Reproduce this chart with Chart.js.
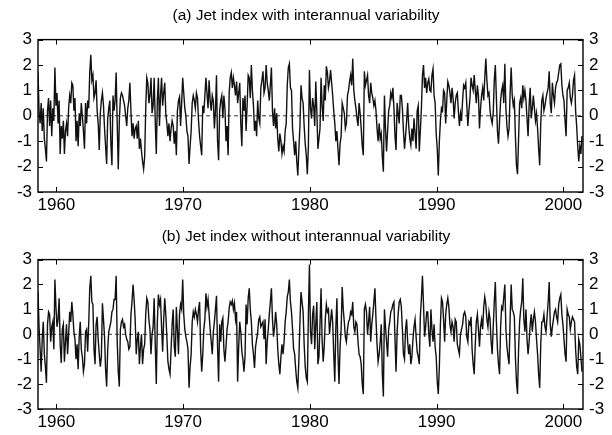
<!DOCTYPE html>
<html>
<head>
<meta charset="utf-8">
<script src="https://cdn.jsdelivr.net/npm/chart.js@4.4.0/dist/chart.umd.min.js"></script>
<style>
  body { margin: 0; background: #fff; }
  .panel { position: absolute; left: 0; width: 612px; }
  #boxA { top: 0; height: 218px; }
  #boxB { top: 218px; height: 217px; }
</style>
</head>
<body>
<div class="panel" id="boxA"><canvas id="chartA"></canvas></div>
<div class="panel" id="boxB"><canvas id="chartB"></canvas></div>
<script>
// monthly series, first month at startYear, one value per month
const startYear = 1958.55;
const endYear = 2001.55;
const yearTicks = [1960, 1970, 1980, 1990, 2000];
const indexTicks = [-3, -2, -1, 0, 1, 2, 3];
const titleA = '(a) Jet index with interannual variability';
const titleB = '(b) Jet index without interannual variability';

const jetWithIav = [
  1.7,0.2,-0.3,0.5,-0.6,0.3,-0.9,-1.3,-1.8,0.2, 0.7,-0.4,0.6,-0.8,0.3,-0.2,1.9,0.4,0.9,-0.3,
  0.6,-1.5,-0.4,-0.9,-0.2,-1.5,-0.6,-0.3,-0.8,0.3, 0.8,0.5,1.3,1.2,0.2,0.7,-1.0,-0.2,-1.2,0.1,
  -0.4,0.5,0.0,-0.6,-1.3,0.5,-0.3,0.6,0.3,1.7, 2.4,1.4,1.6,0.7,0.9,1.4,0.2,-0.3,-1.35,0.1,
  0.6,0.9,0.4,-0.5,-1.2,-1.9,-0.1,0.3,0.6,-1.1, -1.95,0.8,0.2,0.6,1.7,-0.3,-2.1,-0.2,0.7,0.9,
  0.8,0.6,0.4,0.0,-0.4,0.3,
  0.6,1.3,0.2,-0.8,-0.3,-0.9,-0.5,-0.4,-0.9,-0.2, -1.3,-0.9,-1.4,-1.8,-2.1,-1.6,0.3,1.5,1.3,0.5,
  0.8,1.5,0.1,0.4,1.5,-0.2,-1.5,0.6,1.5,-0.4, 0.8,1.5,0.4,0.9,1.3,0.1,-0.3,-0.8,-0.3,-1.0,
  -0.5,-0.2,-0.4,-1.1,-0.6,-1.55,0.2,0.6,0.75,-0.4, 0.5,1.5,0.9,0.3,0.0,-0.6,-0.8,-1.9,-1.2,-0.6,
  0.5,0.8,0.6,0.3,0.9,0.7,-0.2,-0.8,-1.2,-1.55, 0.4,0.1,0.8,1.5,0.9,0.3,1.4,0.6,0.2,0.8,
  0.6,-0.5,0.2,1.6,-1.0,-1.75,
  0.2,0.6,0.8,-0.1,0.8,0.3,-1.0,-0.4,-1.55,0.9, 1.5,1.7,1.1,1.5,1.2,0.8,1.35,0.5,0.9,1.3,
  -0.3,-1.2,0.7,0.2,0.8,-0.6,0.4,1.6,1.5,0.7, 2.0,1.0,0.4,-0.6,-0.2,-0.8,0.6,-0.1,-0.3,1.1,
  1.4,1.75,0.9,1.1,2.0,1.3,1.0,0.6,1.2,1.9, 0.2,-0.4,0.3,-0.5,0.1,-0.9,-1.4,-0.7,-1.0,-1.5,
  -1.2,-1.4,-0.6,-0.3,1.2,1.9,2.05,1.1,1.0,-0.5, -1.0,-1.55,-1.0,-1.8,-2.35,-1.3,-0.4,1.2,0.7,0.5,
  -0.4,-1.1,-1.55,-2.3,-1.2,1.8,
  0.3,-0.1,0.7,0.4,-0.4,1.35,0.2,-1.3,-0.9,-0.5, 1.5,0.4,-0.2,1.2,0.6,1.95,1.7,1.1,1.35,1.8,
  1.3,0.8,0.2,-0.3,-1.0,-0.6,-1.3,-1.95,-1.1,-0.8, 0.5,0.3,0.1,-0.5,-0.3,0.8,1.0,1.35,1.6,1.2,
  2.25,1.0,0.6,0.3,-0.1,-0.4,0.5,0.1,-0.5,-1.2, -1.55,1.75,1.2,1.4,1.6,0.8,0.5,1.3,0.9,0.7,
  0.4,0.6,0.2,-0.5,-1.0,-0.3,-0.9,-0.7,-1.6,-2.2, 0.8,-0.5,-1.4,-0.6,0.2,0.4,0.9,0.7,1.1,0.3,
  -0.8,-1.35,0.5,0.1,-0.3,0.8,
  0.8,0.3,-0.6,-1.3,-0.8,-0.2,0.5,-0.4,-0.9,-1.15, -0.5,-1.0,-0.1,-0.7,-1.3,0.2,0.4,-1.4,-0.6,0.3,
  1.6,2.0,1.1,1.5,0.9,1.3,1.45,1.0,0.95,1.6, 1.85,0.8,0.5,-0.7,-1.3,-2.35,-1.0,-0.2,0.3,0.2,
  1.0,0.9,-0.3,0.6,1.35,1.2,0.9,0.5,1.1,0.7, -0.1,0.5,0.8,0.9,0.2,-0.4,0.1,-0.2,0.6,1.2,
  1.1,1.3,0.4,-0.4,0.2,0.7,1.5,1.2,1.0,1.6, 1.0,0.5,1.2,0.8,-0.5,0.3,0.8,1.1,0.6,1.5,
  2.25,1.4,0.8,0.9,0.2,-0.1,
  -0.3,0.1,1.4,2.0,0.7,-0.6,-1.1,-0.2,0.6,1.0, 1.2,0.5,2.05,0.3,-0.4,-0.8,-0.5,0.9,1.9,0.8,
  0.4,0.6,-0.8,-1.95,-2.3,-0.9,0.5,0.7,0.3,1.2, 0.7,1.0,0.6,-0.1,-0.8,0.4,1.1,-0.1,0.3,0.8,
  0.3,-0.2,0.1,-0.5,-1.3,-1.95,-0.3,0.6,0.8,0.2, 0.4,0.7,0.9,1.1,1.75,0.5,0.1,1.3,0.8,0.5,
  1.1,1.3,1.4,1.7,2.0,2.05,1.2,0.8,0.6,-0.2, -0.8,1.0,1.1,1.3,0.7,0.5,0.8,1.4,1.6,0.2,
  -0.4,-1.2,-1.8,-1.2,-1.5,-0.8
];

const jetWithoutIav = [
  1.7,0.3,-0.6,-1.5,-0.2,0.5,-0.8,-1.3,-1.95,0.4, 0.9,0.8,-0.3,0.3,0.5,-0.6,2.2,1.1,0.3,0.6,
  1.45,-0.4,-1.15,0.2,0.4,-1.1,-0.3,0.4,-0.8,0.0, 0.9,0.5,1.3,0.8,0.1,-0.2,-1.0,-0.4,-1.4,-0.1,
  0.5,-0.6,-0.9,-1.5,-1.2,0.1,0.2,-0.7,0.4,1.85, 2.35,1.3,1.2,-0.6,-1.2,0.4,0.7,-0.2,-0.8,-1.3,
  -0.9,1.25,0.6,-0.1,-1.4,-2.1,-0.6,0.1,0.3,0.5, 0.9,1.0,1.4,1.4,2.35,-0.3,-1.5,-2.1,0.2,0.5,
  0.6,0.3,0.4,0.0,-0.2,-0.3,
  -0.6,-0.5,0.8,1.3,2.0,1.4,0.6,-0.8,-0.2,0.1, -1.2,-0.5,0.0,-1.2,-0.6,-0.4,0.8,1.45,1.3,0.6,
  0.2,-0.8,0.0,0.3,1.45,-0.4,-2.0,0.5,1.6,1.2, 1.4,0.3,-0.7,0.6,1.45,0.8,-0.1,-1.1,-1.4,-1.6,
  -0.6,0.4,1.0,-0.5,-0.9,1.1,0.2,-0.8,0.8,1.2, 1.0,2.2,0.8,0.2,-0.1,-0.3,-0.6,-2.15,-1.3,-0.8,
  0.5,0.9,0.7,1.0,0.8,0.5,1.0,1.3,-0.6,-1.5, -0.8,0.2,0.6,1.65,1.1,1.4,0.8,0.2,-0.3,-0.8,
  0.1,0.5,1.0,1.55,-0.5,-1.9,
  0.4,-0.3,0.5,0.65,-0.6,-1.1,-0.5,0.2,0.5,1.05, 1.3,1.2,1.35,1.0,1.25,0.6,0.9,-1.9,-0.5,0.5,
  0.1,-0.7,-1.0,-1.5,-0.9,1.2,0.4,1.45,1.85,1.0, 0.5,-0.4,-0.8,-1.35,-0.5,-0.2,0.1,0.6,0.7,0.3,
  0.4,0.5,-0.2,0.6,-1.2,-0.3,0.2,0.8,1.3,1.85, 0.6,-0.1,0.3,0.9,0.4,-0.6,-1.2,-1.6,-0.9,-0.4,
  -0.8,-0.3,0.5,0.9,1.5,1.7,2.2,1.3,0.9,0.2, -0.6,-0.8,-1.4,-1.9,-2.15,-1.0,0.5,1.7,1.3,0.9,
  -0.4,-1.3,-1.75,-1.9,0.8,2.8,
  0.1,-0.4,0.8,1.15,-0.6,0.4,1.3,-1.2,-0.9,0.4, 1.85,-0.2,-1.1,-0.5,0.6,1.2,0.9,1.0,0.0,0.5,
  1.0,0.5,-0.8,-1.9,0.3,1.45,-0.8,-2.0,-0.5,0.2, 1.9,1.0,0.5,-0.1,-0.3,0.2,0.5,0.6,0.9,0.8,
  1.3,0.3,0.1,0.5,0.4,-0.3,-0.8,-0.9,-1.2,-2.0, -2.4,1.0,1.2,0.9,0.0,0.5,1.1,-0.3,0.4,0.8,
  1.3,1.85,0.6,-0.4,-1.1,-0.8,-0.3,0.4,-1.6,-2.5, 1.0,0.3,-0.3,-0.9,0.2,0.5,0.9,1.0,1.2,1.3,
  -0.2,-1.5,0.1,0.8,1.3,1.4,
  1.1,0.2,-0.8,-1.0,0.2,0.6,-0.3,-0.8,-0.4,-1.2, -0.9,-0.2,0.3,0.6,-0.1,-0.7,-0.9,-1.2,0.7,1.45,
  2.35,1.2,-0.1,0.3,0.9,0.9,0.0,-0.5,1.0,0.2, -0.3,0.4,-0.5,-0.9,-1.9,-2.4,-1.3,0.4,1.45,1.3,
  0.6,-0.3,0.8,1.2,1.45,1.1,0.4,0.1,0.5,0.3, -0.3,0.6,0.5,-0.4,-0.6,-0.8,0.0,0.2,0.4,0.8,
  0.9,0.7,-0.1,-0.3,0.5,0.4,0.7,-0.6,-1.2,-1.6, -0.4,0.5,0.8,0.2,-0.5,0.3,0.6,0.2,1.1,1.5,
  1.2,0.6,0.3,0.9,0.6,-0.3,
  -0.8,0.3,1.3,2.1,0.5,-0.6,-1.2,-1.6,0.3,1.1, 1.0,1.5,2.0,0.2,-0.5,-0.9,-1.2,0.6,2.0,1.0,
  0.9,0.7,-0.9,-1.9,-2.4,-0.6,0.5,1.0,1.3,2.25, 0.6,0.1,1.0,-0.2,-0.8,-0.3,0.4,0.8,0.1,0.6,
  0.9,0.5,-0.2,-0.8,-1.6,-2.15,-0.4,0.5,0.5,0.8, 0.3,0.1,0.7,1.3,2.1,0.4,-0.1,0.3,0.6,0.9,
  1.0,0.7,0.5,1.2,1.45,1.6,0.8,0.4,-0.2,-0.8, -1.1,1.0,0.8,0.7,0.2,0.5,0.7,0.6,0.5,-0.6,
  -1.3,-1.6,-0.2,-0.4,-0.9,-1.5
];

const fontFamily = "'Liberation Sans', Arial, Helvetica, sans-serif";

// box round the plot plus inward ticks, matlab style
const frameTicks = {
  id: 'frameTicks',
  afterDraw(chart) {
    const ctx = chart.ctx;
    const a = chart.chartArea;
    const sx = chart.scales.x, sy = chart.scales.y;
    ctx.save();
    ctx.strokeStyle = '#000';
    ctx.lineWidth = 1.4;
    ctx.strokeRect(a.left, a.top, a.right - a.left, a.bottom - a.top);
    ctx.lineWidth = 1;
    ctx.beginPath();
    yearTicks.forEach(v => {
      const px = Math.round(sx.getPixelForValue(v)) + 0.5;
      ctx.moveTo(px, a.bottom); ctx.lineTo(px, a.bottom - 5);
      ctx.moveTo(px, a.top); ctx.lineTo(px, a.top + 5);
    });
    indexTicks.forEach(v => {
      const py = Math.round(sy.getPixelForValue(v)) + 0.5;
      ctx.moveTo(a.left, py); ctx.lineTo(a.left + 5, py);
      ctx.moveTo(a.right, py); ctx.lineTo(a.right - 5, py);
    });
    ctx.stroke();
    ctx.restore();
  }
};

function makePanel(canvasId, title, values, titlePad) {
  const points = values.map((v, i) => ({ x: startYear + i / 12, y: v }));
  const zeroLine = [{ x: startYear, y: 0 }, { x: endYear, y: 0 }];
  const tickFont = { family: fontFamily, size: 17 };
  const yAxis = (pos, w) => ({
    position: pos,
    min: -3,
    max: 3,
    afterBuildTicks: s => { s.ticks = indexTicks.map(v => ({ value: v })); },
    afterFit: s => { s.width = w; },
    grid: { display: false, drawTicks: false },
    border: { display: false },
    ticks: { color: '#000', font: tickFont, padding: 6, callback: v => String(v) }
  });
  return new Chart(document.getElementById(canvasId), {
    type: 'line',
    data: {
      datasets: [
        {
          data: points,
          borderColor: '#111',
          borderWidth: 1.4,
          pointRadius: 0,
          tension: 0
        },
        {
          data: zeroLine,
          borderColor: '#000',
          borderWidth: 0.8,
          borderDash: [4, 3],
          pointRadius: 0
        }
      ]
    },
    options: {
      animation: false,
      responsive: true,
      maintainAspectRatio: false,
      layout: { padding: 0 },
      plugins: {
        legend: { display: false },
        tooltip: { enabled: false },
        title: {
          display: true,
          text: title,
          color: '#000',
          font: { family: fontFamily, size: 15.5, weight: 'normal' },
          padding: titlePad
        }
      },
      scales: {
        x: {
          type: 'linear',
          min: startYear,
          max: endYear,
          afterBuildTicks: s => { s.ticks = yearTicks.map(v => ({ value: v })); },
          afterFit: s => { s.height = 26; },
          grid: { display: false, drawTicks: false },
          border: { display: false },
          ticks: { color: '#000', font: tickFont, padding: 3, maxRotation: 0, callback: v => String(v) }
        },
        y: yAxis('left', 38),
        y2: yAxis('right', 29)
      }
    },
    plugins: [frameTicks]
  });
}

makePanel('chartA', titleA, jetWithIav, { top: 6, bottom: 15 });
makePanel('chartB', titleB, jetWithoutIav, { top: 9, bottom: 14 });
</script>
</body>
</html>
